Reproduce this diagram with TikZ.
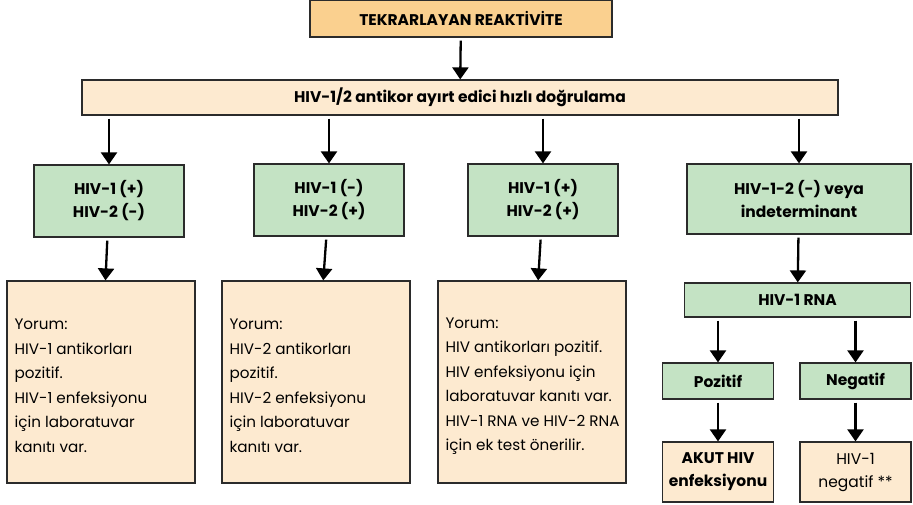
\documentclass[tikz,border=0pt]{standalone}
\usepackage{fontspec}
\setmainfont{Poppins}
\usetikzlibrary{arrows.meta}

\definecolor{topfill}{HTML}{FAD08F}
\definecolor{creamfill}{HTML}{FDEAD0}
\definecolor{greenfill}{HTML}{C4E3C4}
\definecolor{edge}{HTML}{2B2B2B}

\begin{document}
\begin{tikzpicture}[x=1pt,y=-1pt,
  box/.style={draw=edge,line width=1.2pt,inner sep=0pt,align=center,
    font=\fontsize{15.5}{23}\selectfont\bfseries},
  topbox/.style={box,fill=topfill},
  headbox/.style={box,fill=creamfill},
  resbox/.style={box,fill=greenfill},
  notebox/.style={box,fill=creamfill,minimum width=188pt,minimum height=202pt},
  notetext/.style={anchor=west,inner sep=0pt,align=left,
    font=\fontsize{15.2}{24.5}\selectfont},
  endbox/.style={box,fill=creamfill,minimum width=111pt,minimum height=60pt},
  flow/.style={line width=2.3pt,-{Triangle[width=16pt,length=12pt]},
    shorten <=3pt}]
\useasboundingbox (0,0) rectangle (913,505);

 \node[topbox,minimum width=302pt,minimum height=37pt] (tekrar) at (461,18.5) {TEKRARLAYAN REAKT\.IV\.ITE};
 \node[headbox,minimum width=756pt,minimum height=35pt] (dogrula) at (460,97.5) {HIV-1/2 antikor ayırt edici hızlı doğrulama};

 \node[resbox,minimum width=150pt,minimum height=72pt] (hivA) at (109,201) {HIV-1 (+)\\HIV-2 (-)};
 \node[resbox,minimum width=150pt,minimum height=72pt] (hivB) at (329,200) {HIV-1 (-)\\HIV-2 (+)};
 \node[resbox,minimum width=150pt,minimum height=72pt] (hivC) at (543,200) {HIV-1 (+)\\HIV-2 (+)};
 \node[resbox,minimum width=224pt,minimum height=70pt] (hivD) at (799,199) {HIV-1-2 (-) veya\\indeterminant};

 % yorum kutulari
 \node[notebox] (yorumA) at (101,382) {};
 \node[notebox] (yorumB) at (316,382) {};
 \node[notebox] (yorumC) at (532,382) {};
 \node[notetext] (textA) at ([xshift=8pt,yshift=-4pt]yorumA.west) {Yorum:\\HIV-1 antikorları\\pozitif.\\HIV-1 enfeksiyonu\\için laboratuvar\\kanıtı var.};
 \node[notetext] (textB) at ([xshift=8pt,yshift=-4pt]yorumB.west) {Yorum:\\HIV-2 antikorları\\pozitif.\\HIV-2 enfeksiyonu\\için laboratuvar\\kanıtı var.};
 \node[notetext] (textC) at ([xshift=8pt,yshift=-4pt]yorumC.west) {Yorum:\\HIV antikorları pozitif.\\HIV enfeksiyonu için\\laboratuvar kanıtı var.\\HIV-1 RNA ve HIV-2 RNA\\için ek test önerilir.};

 \node[resbox,minimum width=226pt,minimum height=34pt] (rna) at (797.5,300) {HIV-1 RNA};
 \node[resbox,minimum width=111pt,minimum height=36pt] (poz) at (718,381) {Pozitif};
 \node[resbox,minimum width=111pt,minimum height=36pt] (neg) at (855.5,381) {Negatif};
 \node[endbox] (akut) at (718,472) {AKUT HIV\\enfeksiyonu};
 \node[endbox,font=\fontsize{15.5}{23}\selectfont] (hivneg) at (855.5,472) {HIV-1\\negatif **};

 \draw[flow] (tekrar) -- (dogrula);
 \foreach \r in {hivA,hivB,hivC,hivD}
   \draw[flow] (dogrula.south -| \r) -- (\r.north);
 \draw[flow] (hivA) -- (yorumA);
 \draw[flow] (hivB) -- (yorumB);
 \draw[flow] (hivC) -- (yorumC);
 \draw[flow] (hivD) -- (rna);
 \draw[flow] (rna.south -| poz) -- (poz.north);
 \draw[flow] (rna.south -| neg) -- (neg.north);
 \draw[flow] (poz) -- (akut);
 \draw[flow] (neg) -- (hivneg);

\end{tikzpicture}
\end{document}
